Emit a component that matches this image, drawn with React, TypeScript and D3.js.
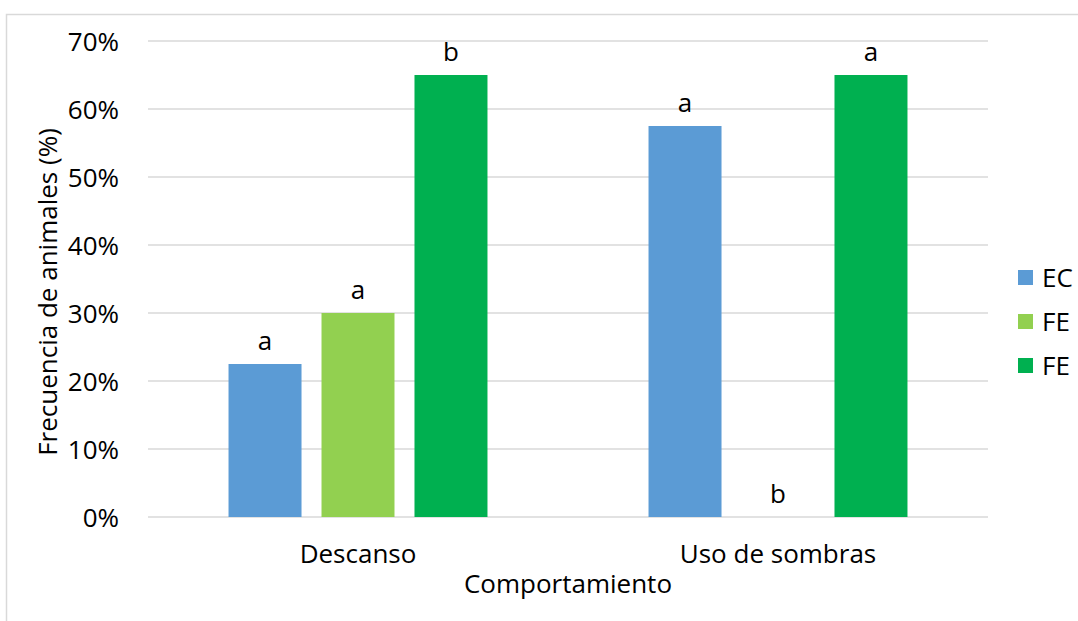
import * as d3 from 'd3';

const categories = ['Descanso', 'Uso de sombras'];
const seriesNames = ['EC', 'FE', 'FE'];
const seriesColors = ['#5B9BD5', '#92D050', '#00B050'];
const ecValues = [0.225, 0.575];
const feLightValues = [0.3, 0];
const feDarkValues = [0.65, 0.65];
const letters = [
  ['a', 'a', 'b'],
  ['a', 'b', 'a'],
];
const yTicks = [0, 0.1, 0.2, 0.3, 0.4, 0.5, 0.6, 0.7];

const width = 1078;
const height = 621;
const marginLeft = 148;
const marginRight = 90;
const marginTop = 41;
const marginBottom = 104;
const font = '"Open Sans", "Liberation Sans", sans-serif';
const fontSize = 26;

export default function App() {
  const series = [ecValues, feLightValues, feDarkValues];

  const x0 = d3.scaleBand<string>().domain(categories).range([marginLeft, width - marginRight]).padding(0);
  const x1 = d3
    .scaleBand<number>()
    .domain([0, 1, 2])
    .range([0, x0.bandwidth()])
    .paddingInner(0.215)
    .paddingOuter(0.866);
  const y = d3.scaleLinear([0, 0.7], [height - marginBottom, marginTop]);
  const fmt = d3.format('.0%');

  return (
    <svg
      width={width}
      height={height}
      style={{ position: 'absolute', left: 0, top: 0, background: '#fff' }}
      fontFamily={font}
    >
      <rect x={6.5} y={14.5} width={1100} height={700} fill="#fff" stroke="#D9D9D9" strokeWidth={1.5} />

      {/* grid + y labels */}
      {yTicks.map((t) => (
        <g key={t}>
          <line
            x1={marginLeft}
            x2={width - marginRight}
            y1={y(t)}
            y2={y(t)}
            stroke="#D9D9D9"
            strokeWidth={1.5}
          />
          <text x={119} y={y(t) + 9.5} textAnchor="end" fontSize={fontSize} fill="#000">
            {fmt(t)}
          </text>
        </g>
      ))}

      {/* bars */}
      {categories.map((c, ci) => (
        <g key={c} transform={`translate(${x0(c)},0)`}>
          {series.map((vals, si) => (
            <g key={si}>
              <rect
                x={x1(si)}
                y={y(vals[ci])}
                width={x1.bandwidth()}
                height={y(0) - y(vals[ci])}
                fill={seriesColors[si]}
              />
              <text
                x={(x1(si) ?? 0) + x1.bandwidth() / 2}
                y={y(vals[ci]) - 14}
                textAnchor="middle"
                fontSize={fontSize}
                fill="#000"
              >
                {letters[ci][si]}
              </text>
            </g>
          ))}
        </g>
      ))}

      {/* x labels */}
      {categories.map((c) => (
        <text
          key={c}
          x={(x0(c) ?? 0) + x0.bandwidth() / 2}
          y={563}
          textAnchor="middle"
          fontSize={fontSize}
          fill="#000"
        >
          {c}
        </text>
      ))}

      <text x={(marginLeft + width - marginRight) / 2} y={593} textAnchor="middle" fontSize={fontSize} fill="#000">
        Comportamiento
      </text>
      <text transform="translate(57,292) rotate(-90)" textAnchor="middle" fontSize={fontSize} fill="#000">
        Frecuencia de animales (%)
      </text>

      {/* legend */}
      {seriesNames.map((n, i) => (
        <g key={i} transform={`translate(1018,${277.5 + i * 44})`}>
          <rect x={0} y={-7.5} width={15} height={15} fill={seriesColors[i]} />
          <text x={24} y={9.5} fontSize={fontSize} fill="#000">
            {n}
          </text>
        </g>
      ))}
    </svg>
  );
}
